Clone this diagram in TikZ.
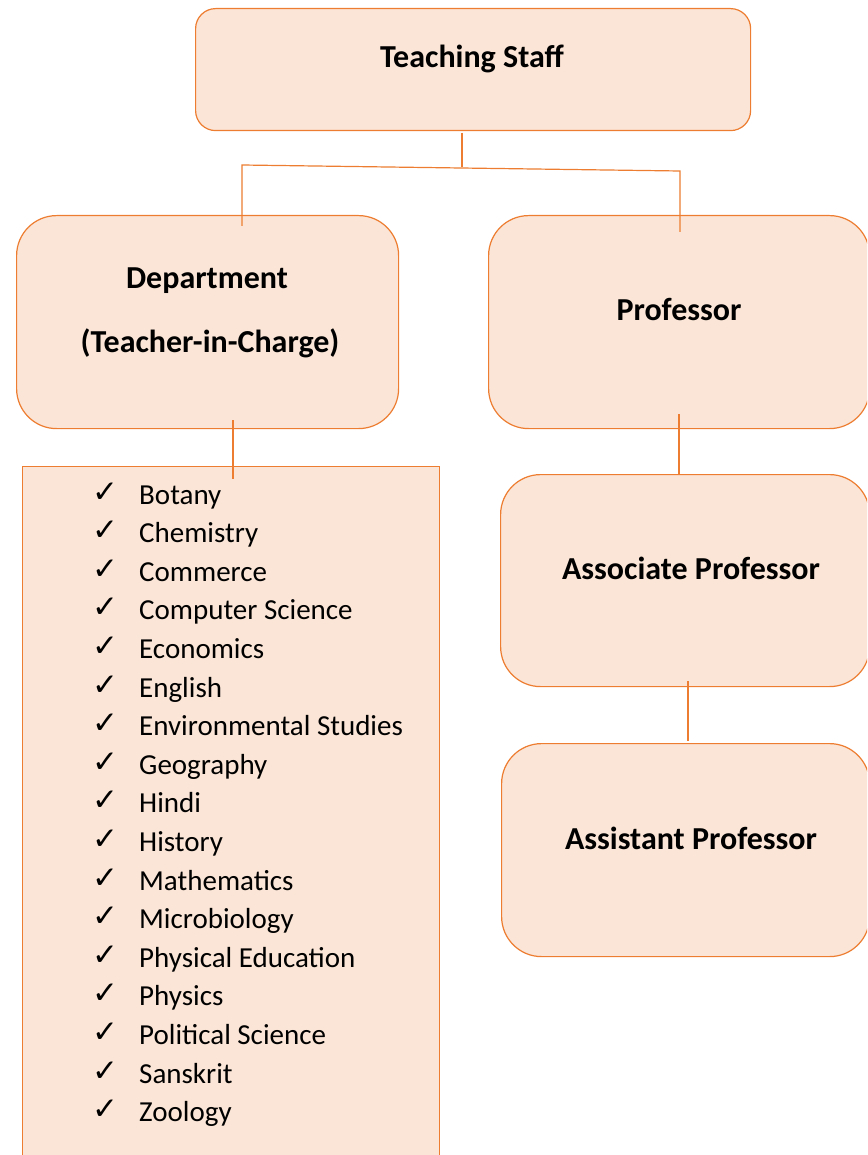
\documentclass[tikz,border=0pt]{standalone}
\usepackage{fontspec}
\setmainfont{Carlito}
\newfontfamily\ticksym{DejaVu Sans}
\definecolor{boxfill}{HTML}{FBE5D6}
\definecolor{boxline}{HTML}{ED7D31}

\begin{document}
\begin{tikzpicture}[x=1pt, y=-1pt,
    panel/.style={draw=boxline, fill=boxfill, line width=1.2pt, anchor=north west, inner sep=0pt},
    link/.style={draw=boxline, line width=1.2pt},
    title/.style={anchor=base, inner sep=0pt, font=\bfseries\fontsize{32}{38}\selectfont},
    item/.style={anchor=base west, inner sep=0pt, font=\fontsize{29}{35}\selectfont}]
          \useasboundingbox (0,0) rectangle (867,1155);
          \clip (0,0) rectangle (867,1155);

          % Boxes
          \node[panel, rounded corners=20pt, minimum width=555pt, minimum height=122pt] (staff) at (195,8) {};
          \node[panel, rounded corners=40pt, minimum width=382pt, minimum height=213pt] (dept) at (16,215) {};
          \node[panel, rounded corners=40pt, minimum width=381pt, minimum height=213pt] (prof) at (488,215) {};
          \node[panel, rounded corners=40pt, minimum width=369pt, minimum height=212pt] (assoc) at (500,474) {};
          \node[panel, rounded corners=40pt, minimum width=368pt, minimum height=213pt] (assist) at (501,743) {};
          \node[panel, minimum width=417pt, minimum height=720pt] (subjects) at (22,466) {};

          % Box titles
          \node[title] (staffT) at (472,68) {Teaching Staff};
          \node[title] (deptT) at (207,288) {Department};
          \node[title] (deptS) at (210,352) {(Teacher-in-Charge)};
          \node[title] (profT) at (679,320) {Professor};
          \node[title] (assocT) at (691,579) {Associate Professor};
          \node[title] (assistT) at (691,849) {Assistant Professor};

          % Subject list
          \foreach \subj [count=\i from 0] in {Botany, Chemistry, Commerce, Computer Science,
              Economics, English, Environmental Studies, Geography, Hindi, History,
              Mathematics, Microbiology, Physical Education, Physics, Political Science,
              Sanskrit, Zoology}
            \node[item] (subj\i) at (92, 504+38.6*\i) {\makebox[47pt][l]{\raisebox{2pt}{\ticksym\fontsize{31}{36}\selectfont ✓}}\subj};

          % Connector ends
          \coordinate (s0) at (462,133);
          \coordinate (s1) at (462,167);
          \coordinate (busL) at (242,165);
          \coordinate (busR) at (680,171);
          \coordinate (d0) at (242,226);
          \coordinate (p0) at (680,232);
          \coordinate (d1) at (233,420);
          \coordinate (l0) at (233,479);
          \coordinate (p1) at (679,414);
          \coordinate (a0) at (679,474);
          \coordinate (a1) at (688,681);
          \coordinate (b0) at (688,741);

          % Edges
          \draw[link] (s0) -- (s1);
          \draw[link] (d0) -- (busL) -- (busR) -- (p0);
          \draw[link] (d1) -- (l0);
          \draw[link] (p1) -- (a0);
          \draw[link] (a1) -- (b0);
        \end{tikzpicture}
\end{document}
